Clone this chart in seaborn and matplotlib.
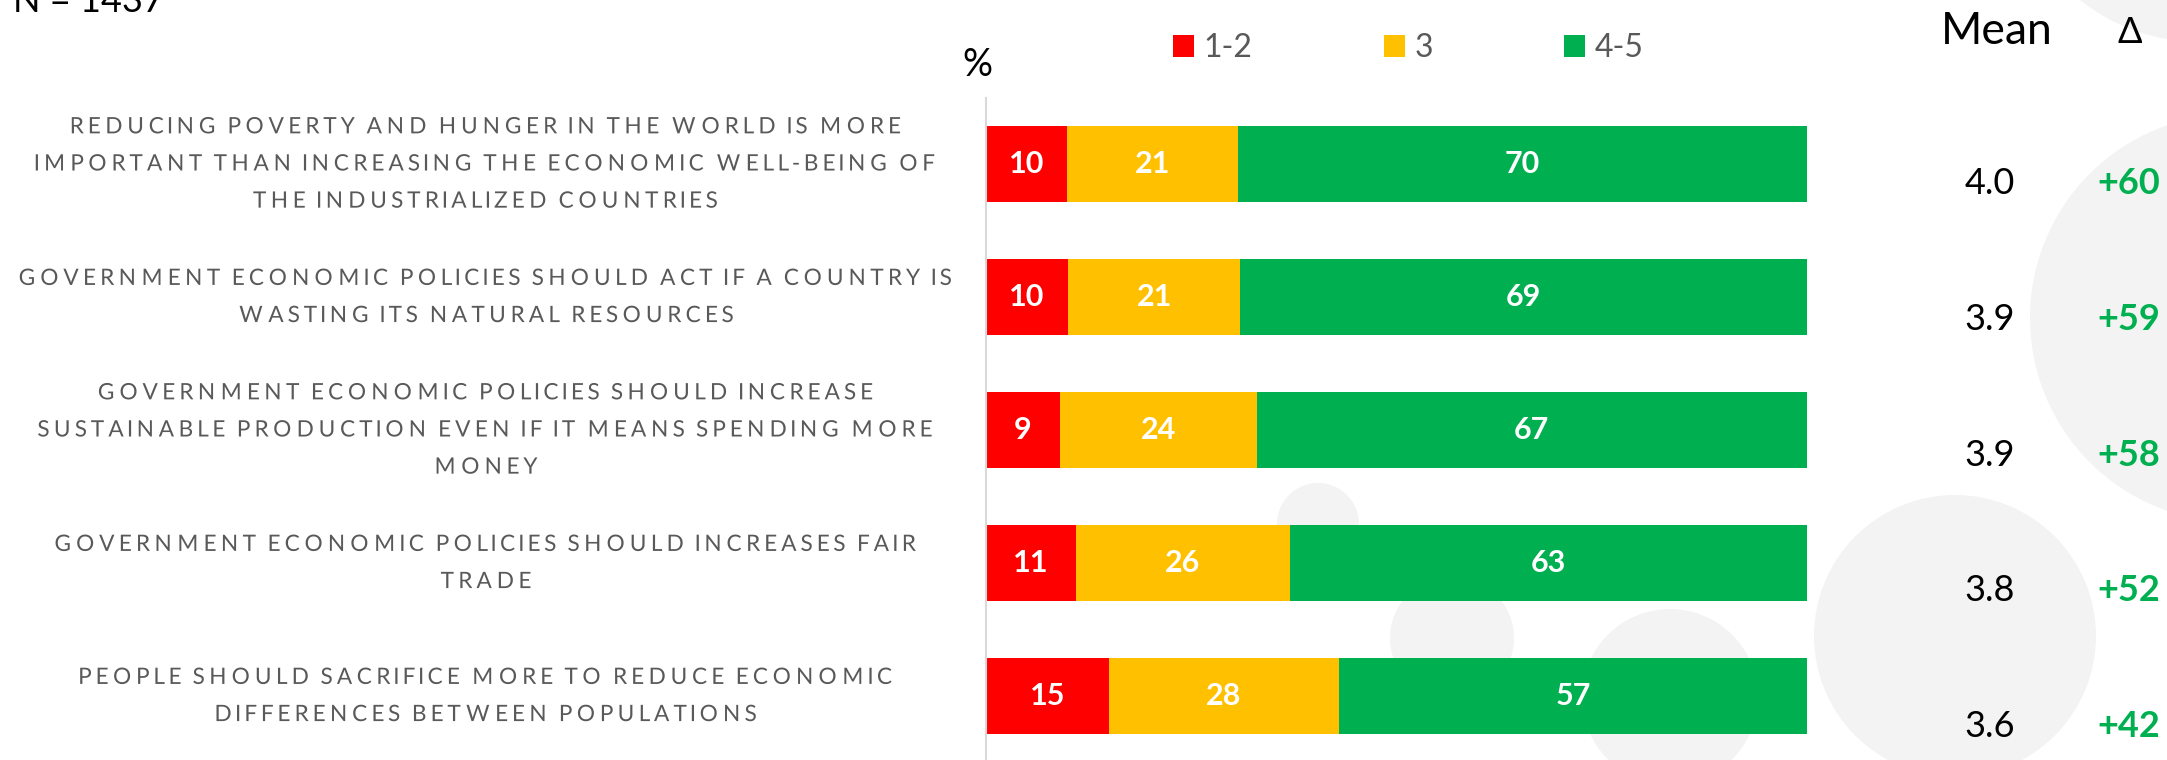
import numpy as np
import pandas as pd
import matplotlib
matplotlib.use("Agg")
import matplotlib.pyplot as plt
import seaborn as sns
from matplotlib.patches import Patch, Circle
from matplotlib.patheffects import AbstractPathEffect
from matplotlib.path import Path

# ---------------- data ----------------
statements = [
    "REDUCING POVERTY AND HUNGER IN THE WORLD IS MORE\nIMPORTANT THAN INCREASING THE ECONOMIC WELL-BEING OF\nTHE INDUSTRIALIZED COUNTRIES",
    "GOVERNMENT ECONOMIC POLICIES SHOULD ACT IF A COUNTRY IS\nWASTING ITS NATURAL RESOURCES",
    "GOVERNMENT ECONOMIC POLICIES SHOULD INCREASE\nSUSTAINABLE PRODUCTION EVEN IF IT MEANS SPENDING MORE\nMONEY",
    "GOVERNMENT ECONOMIC POLICIES SHOULD INCREASES FAIR\nTRADE",
    "PEOPLE SHOULD SACRIFICE MORE TO REDUCE ECONOMIC\nDIFFERENCES BETWEEN POPULATIONS",
]
share_low = [10, 10, 9, 11, 15]      # 1-2
share_mid = [21, 21, 24, 26, 28]     # 3
share_high = [70, 69, 67, 63, 57]    # 4-5
means = [4.0, 3.9, 3.9, 3.8, 3.6]
deltas = [60, 59, 58, 52, 42]
legend_labels = ["1-2", "3", "4-5"]
n_label = "N = 1437"

# ---------------- style ----------------
colors = ["#FF0000", "#FFC000", "#00B050"]
label_gray = "#595959"
bg_circle = "#F3F3F3"
circles = [(2234, 318, 204), (2200, -150, 192), (1955, 636, 141),
           (1318, 524, 41), (1452, 638, 62), (1670, 697, 88)]


class LetterSpacing(AbstractPathEffect):
    """Spread the glyphs of a text line apart around the line centre."""

    def __init__(self, factor):
        super().__init__()
        self.factor = factor

    def draw_path(self, renderer, gc, tpath, affine, rgbFace=None):
        codes = tpath.codes
        verts = np.array(tpath.vertices, float)
        if codes is None or len(verts) == 0 or self.factor == 0:
            renderer.draw_path(gc, tpath, affine, rgbFace)
            return
        valid = codes != Path.CLOSEPOLY
        xs = verts[valid, 0]
        mid = (xs.min() + xs.max()) / 2
        starts = list(np.flatnonzero(codes == Path.MOVETO)) + [len(codes)]
        for a, b in zip(starts[:-1], starts[1:]):
            seg = verts[a:b, 0][valid[a:b]]
            if len(seg) == 0:
                continue
            c = (seg.min() + seg.max()) / 2
            verts[a:b, 0] += self.factor * (c - mid)
        renderer.draw_path(gc, Path(verts, codes), affine, rgbFace)


sns.set_theme(style="white")
plt.rcParams["font.family"] = ["Lato", "DejaVu Sans"]

W, H = 2167, 760
fig = plt.figure(figsize=(W / 100, H / 100), dpi=100)
fig.patch.set_facecolor("white")

# decorative background circles
bg = fig.add_axes([0, 0, 1, 1], zorder=0)
bg.set_xlim(0, W)
bg.set_ylim(H, 0)
bg.axis("off")
for cx, cy, r in circles:
    bg.add_patch(Circle((cx, cy), r, facecolor=bg_circle, edgecolor="none"))

# ---------------- main bars ----------------
low = np.array(share_low, float)
mid = np.array(share_mid, float)
high = np.array(share_high, float)
tot = low + mid + high
df = pd.DataFrame({
    "statement": statements,
    "c1": low / tot * 100,
    "c2": (low + mid) / tot * 100,
    "c3": (low + mid + high) / tot * 100,
})

ax_left = 985.7
ax = fig.add_axes([ax_left / W, (H - 762.5) / H, 821.3 / W, 665 / H], zorder=1)
ax.patch.set_alpha(0)
for col, color in zip(["c3", "c2", "c1"], colors[::-1]):
    sns.barplot(data=df, x=col, y="statement", orient="h", order=statements,
                color=color, saturation=1, width=0.564, linewidth=0,
                errorbar=None, ax=ax)

ax.set_xlim(0, 100)
ax.set_ylim(4.5, -0.5)
ax.set_xlabel("")
ax.set_ylabel("")
ax.set_xticks([])
ax.set_yticks(range(len(statements)))
ax.set_yticklabels(statements, fontsize=16.3, color=label_gray,
                   fontweight="normal", linespacing=1.95)
label_center = 486  # px, centre of the label block
ax.tick_params(axis="y", length=0, pad=(ax_left - label_center) * 72 / 100)
for lbl in ax.get_yticklabels():
    lbl.set_horizontalalignment("center")
    lbl.set_verticalalignment("center")
    lbl.set_multialignment("center")
for s in ["top", "right", "bottom"]:
    ax.spines[s].set_visible(False)
ax.spines["left"].set_color("#D9D9D9")
ax.spines["left"].set_linewidth(1.5)

# letter spacing so the widest label line spans ~940 px like the reference
fig.canvas.draw()
renderer = fig.canvas.get_renderer()
widest = max(l.get_window_extent(renderer).width for l in ax.get_yticklabels())
spread = max(0.0, 940.0 / widest - 1.0)
for lbl in ax.get_yticklabels():
    lbl.set_path_effects([LetterSpacing(spread)])

# segment labels
for i in range(len(statements)):
    lefts = [0, df["c1"][i], df["c2"][i]]
    rights = [df["c1"][i], df["c2"][i], df["c3"][i]]
    vals = [share_low[i], share_mid[i], share_high[i]]
    for l, r, v in zip(lefts, rights, vals):
        ax.text((l + r) / 2, i, f"{v}", ha="center", va="center",
                color="white", fontsize=22, fontweight="bold")

ytr = ax.get_yaxis_transform()
# "%" marker
ax.text(-0.0105, -0.744, "%", transform=ytr,
        ha="center", va="center", fontsize=27, color="black", clip_on=False)

# mean & delta columns
row_step, row_off = 1.0225, 0.143
ax.text(1.2315, -1.0, "Mean", transform=ytr,
        ha="center", va="center", fontsize=32, color="black", clip_on=False)
ax.text(1.3935, -0.99, "Δ", transform=ytr,
        ha="center", va="center", fontsize=26, color="black", clip_on=False)
for i, (m, d) in enumerate(zip(means, deltas)):
    y = i * row_step + row_off
    ax.text(1.2228, y, f"{m:.1f}", transform=ytr,
            ha="center", va="center", fontsize=26, color="black", clip_on=False)
    ax.text(1.392, y, f"+{d}", transform=ytr,
            ha="center", va="center", fontsize=26, color=colors[2],
            fontweight="bold", clip_on=False)

# legend
handles = [Patch(facecolor=c, edgecolor="none") for c in colors]
fig.legend(handles, legend_labels, loc="center left",
           bbox_to_anchor=(1173 / W, (H - 48) / H), ncol=3, frameon=False,
           fontsize=23, labelcolor=label_gray, handlelength=0.66,
           handleheight=0.66, handletextpad=0.3, columnspacing=4.1,
           borderpad=0, borderaxespad=0)

# sample size
fig.text(13 / W, (H - 12) / H, n_label, ha="left", va="baseline",
         fontsize=26, color="black")

fig.savefig("out.png", dpi=100, facecolor="white")
